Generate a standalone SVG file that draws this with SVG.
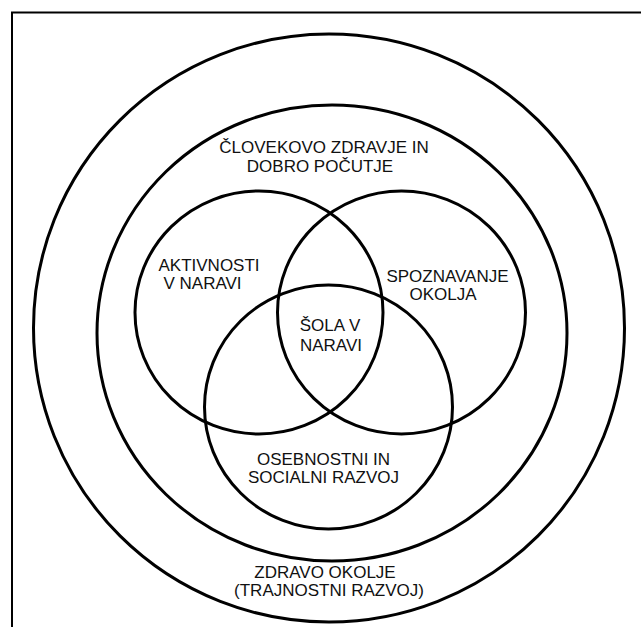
<svg xmlns="http://www.w3.org/2000/svg" width="641" height="627" viewBox="0 0 641 627">
<style>
.c{fill:none;stroke:#000;stroke-width:3}
text{font-family:"Liberation Sans",Arial,sans-serif;font-size:17px;fill:#111}
</style>
<rect width="641" height="627" fill="#fff"/>
<path d="M12 627 V12.5 H641" fill="none" stroke="#000" stroke-width="2"/>
<g id="outer"><ellipse class="c" cx="329" cy="328" rx="295.5" ry="294"/>
<text x="325" y="578" text-anchor="middle">ZDRAVO OKOLJE</text>
<text x="329" y="596" text-anchor="middle">(TRAJNOSTNI RAZVOJ)</text></g>
<g id="health"><ellipse class="c" cx="332" cy="333" rx="235" ry="228"/>
<text x="324" y="152.5" text-anchor="middle">ČLOVEKOVO ZDRAVJE IN</text>
<text x="320" y="172" text-anchor="middle">DOBRO POČUTJE</text></g>
<g id="activities"><ellipse class="c" cx="259" cy="312.5" rx="124" ry="121.5"/>
<text x="158.5" y="271">AKTIVNOSTI</text>
<text x="163.5" y="289">V NARAVI</text></g>
<g id="environment"><ellipse class="c" cx="401.5" cy="312.5" rx="124" ry="121.5"/>
<text x="447.5" y="282" text-anchor="middle">SPOZNAVANJE</text>
<text x="443" y="300" text-anchor="middle">OKOLJA</text></g>
<g id="personal"><ellipse class="c" cx="328.5" cy="407" rx="124" ry="122"/>
<text x="323.5" y="465" text-anchor="middle">OSEBNOSTNI IN</text>
<text x="323.5" y="483" text-anchor="middle">SOCIALNI RAZVOJ</text></g>
<g id="school">
<text x="330" y="331" text-anchor="middle">ŠOLA V</text>
<text x="331" y="351" text-anchor="middle">NARAVI</text></g>
<g id="connectors"></g>
</svg>
